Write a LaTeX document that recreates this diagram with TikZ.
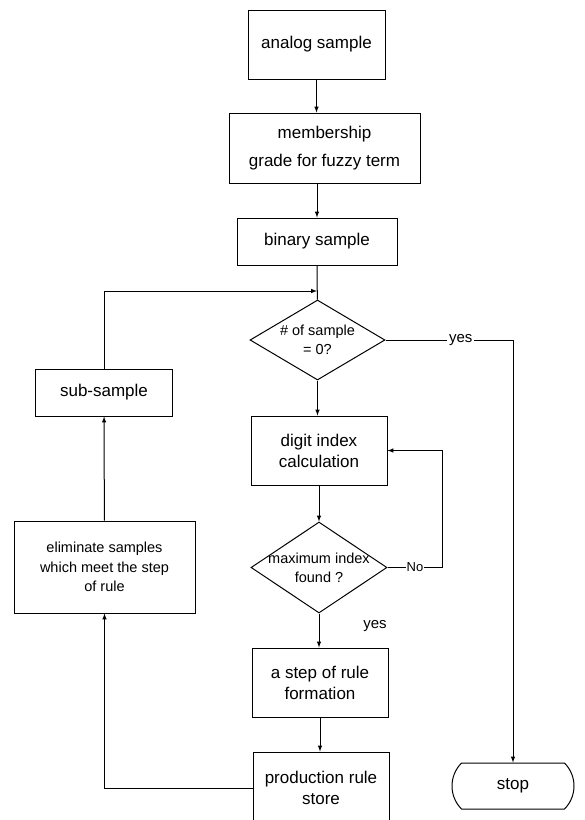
\documentclass[tikz,border=0pt]{standalone}
\usepackage{fontspec}
\setmainfont{Liberation Sans}
\usetikzlibrary{
  calc,
  arrows,
  shapes.geometric,
  shapes.misc
}
\tikzset{
>=latex
}

\begin{document}
\begin{tikzpicture}[x=1pt, y=-1pt, line width=1pt,
  box/.style={draw, rectangle, align=center, inner sep=0pt, font=\fontsize{17}{21}\selectfont},
  smallbox/.style={box, font=\fontsize{14.5}{19.5}\selectfont},
  decision/.style={draw, diamond, align=center, inner xsep=-30pt, inner ysep=0pt, font=\fontsize{14.5}{19}\selectfont},
  terminal/.style={draw, rounded rectangle, rounded rectangle arc length=90, inner sep=0pt, font=\fontsize{17}{21}\selectfont},
  lbl/.style={font=\fontsize{15}{18}\selectfont, fill=white, inner sep=2pt}]
 \useasboundingbox (0,0) rectangle (585,820);
 % main column
 \node[box, minimum width=137pt, minimum height=69pt] (analog) at (316.5,44.5) {analog sample};
 \node[box, minimum width=191pt, minimum height=70pt] (member) at (324.5,148) {membership\\[7pt]grade for fuzzy term};
 \node[box, minimum width=160pt, minimum height=47pt] (binary) at (317,241.5) {binary sample};
 \node[decision, minimum width=135pt, minimum height=80pt] (q1) at (317.5,340) {\# of sample\\= 0?};
 \node[box, minimum width=136pt, minimum height=69pt] (digit) at (319,450.5) {digit index\\calculation};
 \node[decision, minimum width=136pt, minimum height=91pt] (q2) at (319,567.5) {maximum index\\found ?};
 \node[box, minimum width=136pt, minimum height=69pt] (rule) at (320,682.5) {a step of rule\\formation};
 \node[box, minimum width=136pt, minimum height=72pt] (store) at (321,788) {production rule\\store};
 % left column
 \node[box, minimum width=137pt, minimum height=47pt] (sub) at (104,392.5) {sub-sample};
 \node[smallbox, minimum width=181pt, minimum height=92pt] (elim) at (104.5,567) {eliminate samples\\which meet the step\\of rule};
 % end
 \node[terminal, minimum width=122pt, minimum height=46pt] (stop) at (513,786) {stop};
 \node[font=\fontsize{15}{18}\selectfont] (yes2) at (375,626) {yes};
 \coordinate (join) at (317,291);

 \draw[->] (analog) -- (analog |- member.north);
 \draw[->] (member.south -| binary) -- (binary);
 \draw (binary) -- (q1);
 \draw[->] (q1.south) -- (q1.south |- digit.north);
 \draw[->] (digit) -- (q2);
 \draw[->] (q2) -- (q2 |- rule.north);
 \draw[->] (rule) -- (rule |- store.north);
 \draw[->] (store.west) -| (elim.south);
 \draw[->] (elim) -- (sub);
 \draw[->] (sub.north) |- (join);
 \draw[->] (q1.east) -- node[lbl, pos=0.59] {yes} (q1.east -| stop) -- (stop.north);
 \draw[->] (q2.east) -- node[lbl, font=\fontsize{13}{16}\selectfont, inner sep=1pt] {No} ++(55,0) |- (digit.east);
\end{tikzpicture}
\end{document}
